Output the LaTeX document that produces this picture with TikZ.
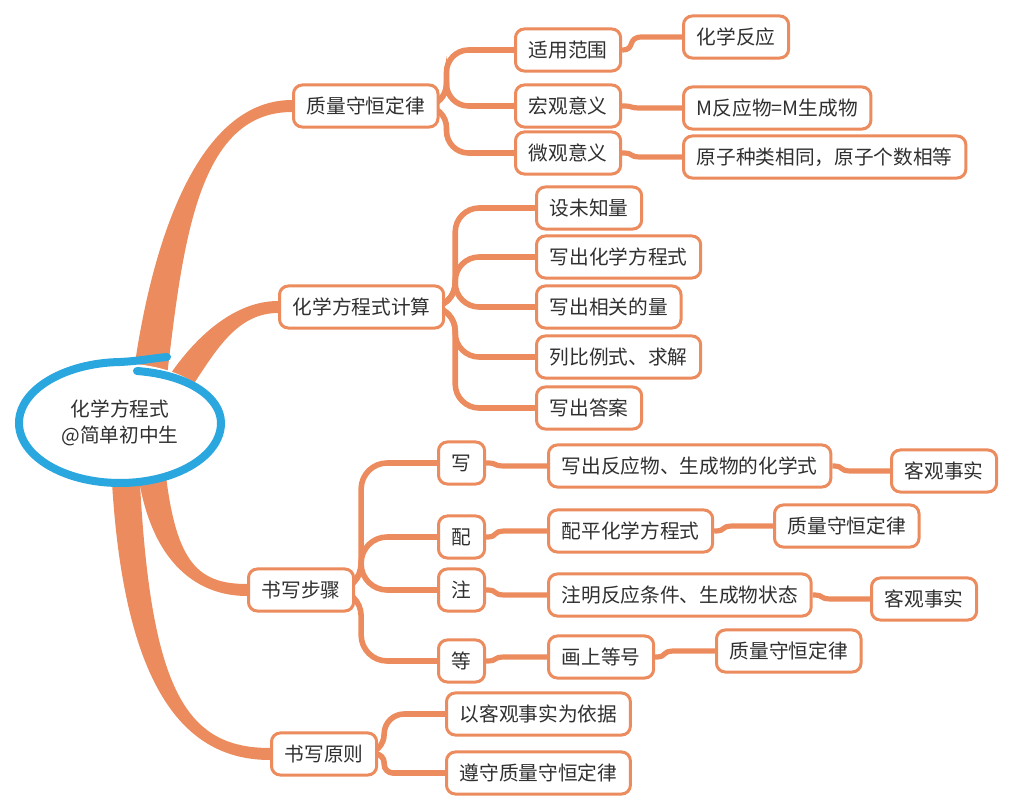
\documentclass[tikz,border=0pt]{standalone}
\usepackage{fontspec}
\newfontfamily\cjk{Noto Sans CJK SC}
\usetikzlibrary{calc,shapes.geometric,backgrounds}
\definecolor{twig}{HTML}{EC8C5E}
\definecolor{ringblue}{HTML}{2AA7DF}
\definecolor{ink}{HTML}{303030}
% thick tapered branch leaving the central ellipse
\newcommand{\limb}[5]{%
  \fill[twig] ($(hub)+(#1)+(#2)$) .. controls ($(#3)+(#2)$) and ($(#4)+(0,6)$) .. ($(#5.west)+(0,6)$)
    -- ($(#5.west)+(0,-6)$) .. controls ($(#4)+(0,-6)$) and ($(#3)-(#2)$) .. ($(hub)+(#1)-(#2)$) -- cycle;}

\begin{document}
\begin{tikzpicture}[
    x=0.025cm, y=-0.025cm,
    box/.style={draw=twig, fill=white, line width=0.075cm, rounded corners=0.22cm, text=ink,
      font={\cjk\fontsize{14pt}{17pt}\selectfont}, minimum height=1.05cm, inner xsep=0.33cm,
      inner ysep=0pt, anchor=west},
    ringnode/.style={ellipse, fill=white, minimum width=5.05cm, minimum height=2.98cm,
      inner sep=0pt, align=center, text=ink, font={\cjk\fontsize{14pt}{18pt}\selectfont}},
    ring/.style={draw=ringblue, line width=0.2cm, line cap=round},
    wire/.style={draw=twig, line width=0.14cm},
    twigline/.style={draw=twig, line width=0.13cm}
  ]
  \useasboundingbox (0,0) rectangle (1035,808);
  \coordinate (hub) at (120,423);

  % main branches
  \node[box] (mass) at (292,106) {质量守恒定律};
  \node[box] (calc) at (278,307) {化学方程式计算};
  \node[box] (steps) at (247,590) {书写步骤};
  \node[box] (rules) at (270,754) {书写原则};

  \node[box] (scope) at (514,50) {适用范围};
  \node[box] (macro) at (514,106) {宏观意义};
  \node[box] (micro) at (514,153) {微观意义};
  \node[box] (reaction) at (682,37) {化学反应};
  \node[box] (massrel) at (682,108) {M反应物=M生成物};
  \node[box] (atoms) at (682,157) {原子种类相同，原子个数相等};

  \node[box] (unknown) at (535,208) {设未知量};
  \node[box] (equation) at (535,257) {写出化学方程式};
  \node[box] (amounts) at (535,307) {写出相关的量};
  \node[box] (ratio) at (535,357) {列比例式、求解};
  \node[box] (answer) at (535,408) {写出答案};

  \node[box] (write) at (437,463) {写};
  \node[box] (balance) at (437,537) {配};
  \node[box] (note) at (437,590) {注};
  \node[box] (equal) at (437,661) {等};
  \node[box] (formula) at (547,466) {写出反应物、生成物的化学式};
  \node[box] (level) at (547,531) {配平化学方程式};
  \node[box] (condition) at (547,595) {注明反应条件、生成物状态};
  \node[box] (sign) at (547,657) {画上等号};
  \node[box] (factA) at (890,471) {客观事实};
  \node[box] (lawA) at (773,526) {质量守恒定律};
  \node[box] (factB) at (870,599) {客观事实};
  \node[box] (lawB) at (715,651) {质量守恒定律};

  \node[box] (basis) at (445,714) {以客观事实为依据};
  \node[box] (obey) at (445,773) {遵守质量守恒定律};

  \node[ringnode] (root) at (hub) {化学方程式\\@简单初中生};
  % hand-drawn ring round the centre
  \draw[ring] (137,371) .. controls (190,375) and (221,398) .. (221,423)
    .. controls (221,456) and (176,483) .. (120,483)
    .. controls (64,483) and (19,456) .. (19,423)
    .. controls (19,390) and (64,363) .. (120,362)
    .. controls (140,361) and (155,358) .. (167,357);

  \begin{scope}[on background layer]
    \limb{28,-30}{17,0}{165,250}{195,106}{mass}
    \limb{58,-38}{9,9}{205,345}{235,307}{calc}
    \limb{30,35}{-14,0}{160,560}{195,590}{steps}
    \limb{5,40}{-14,0}{135,690}{185,754}{rules}
    \foreach \k in {scope,macro,micro}
      \draw[wire, rounded corners=0.55cm] ($(mass.east)+(-30,0)$) -- ++(37,0) |- (\k.west);
    \foreach \k in {unknown,equation,amounts,ratio,answer}
      \draw[wire, rounded corners=0.6cm] ($(calc.east)+(-30,0)$) -- ++(40,0) |- (\k.west);
    \foreach \k in {write,balance,note,equal}
      \draw[wire, rounded corners=0.65cm] ($(steps.east)+(-30,0)$) -- ++(36,0) |- (\k.west);
    \draw[wire, rounded corners=0.5cm] ($(rules.east)+(-30,0)$) -- ++(36,0) |- (basis.west);
    \draw[wire, rounded corners=0.22cm] ($(rules.east)+(-30,0)$) -- ++(36,0) |- (obey.west);
    \foreach \a/\b in {scope/reaction,macro/massrel,micro/atoms,write/formula,balance/level,
        note/condition,equal/sign,formula/factA,level/lawA,condition/factB,sign/lawB}
      \draw[twigline] (\a.east) .. controls +(14,0) and ($(\a.east |- \b.west)+(4,0)$)
        .. ($(\a.east |- \b.west)+(20,0)$) -- (\b.west);
  \end{scope}
\end{tikzpicture}
\end{document}
